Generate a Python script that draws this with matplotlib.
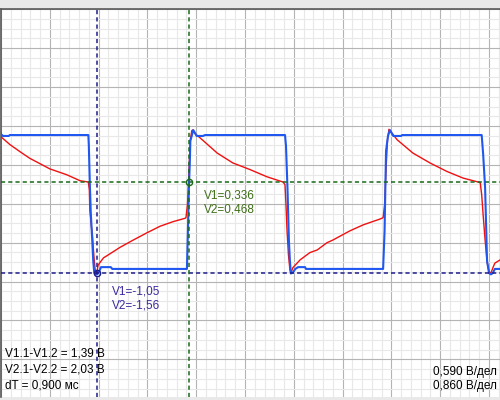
import matplotlib
matplotlib.use("Agg")
import matplotlib.pyplot as plt
from matplotlib.ticker import MultipleLocator

plt.rcParams['lines.scale_dashes'] = False
plt.rcParams['font.family'] = ['Liberation Sans', 'DejaVu Sans']

# time in screen divisions, voltage in volts
t_ch1 = [0, 0.01, 0.18, 0.39, 0.59, 1.00, 1.35, 1.62, 1.79, 1.81, 1.82, 1.83, 1.85, 1.87,
         1.89, 1.91, 1.93, 1.96, 1.99, 2.10, 2.23, 2.44, 2.71, 2.99, 3.26, 3.53, 3.77, 3.79,
         3.82, 3.84, 3.86, 3.88, 3.91, 3.93, 3.98, 4.08, 4.43, 4.75, 5.10, 5.45, 5.78, 5.82,
         5.84, 5.86, 5.89, 5.92, 5.94, 5.98, 6.13, 6.33, 6.48, 6.68, 6.80, 7.15, 7.42, 7.77,
         7.83, 7.86, 7.89, 7.92, 7.95, 7.99, 8.12, 8.44, 8.79, 9.14, 9.47, 9.78, 9.82, 9.85,
         9.88, 9.92, 9.96, 10.00, 10.04, 10.08, 10.12, 10.23]
v_ch1 = [1.07, 1.01, 0.90, 0.79, 0.69, 0.53, 0.44, 0.35, 0.33, 0.21, -0.09, -0.17, -0.33, -0.44,
         -0.66, -0.85, -1.00, -1.05, -0.93, -0.82, -0.76, -0.66, -0.55, -0.44, -0.34, -0.27, -0.22, -0.21,
         -0.02, 0.29, 0.67, 0.97, 1.11, 1.12, 1.06, 1.00, 0.77, 0.62, 0.52, 0.41, 0.33, 0.29,
         -0.02, -0.39, -0.77, -1.00, -1.05, -0.97, -0.85, -0.74, -0.70, -0.59, -0.55, -0.41, -0.32, -0.23,
         -0.21, -0.02, 0.52, 0.97, 1.13, 1.09, 0.97, 0.77, 0.62, 0.49, 0.39, 0.33, 0.32, 0.14,
         -0.17, -0.55, -0.88, -1.03, -1.05, -0.97, -0.90, -0.85]

t_ch2 = [0, 0.04, 0.16, 0.18, 1.79, 1.80, 1.82, 1.84, 1.87, 1.89, 1.91, 1.93, 1.97, 2.01,
         2.05, 2.25, 2.28, 3.81, 3.83, 3.85, 3.87, 3.88, 3.92, 3.94, 4.01, 4.14, 4.18, 5.82,
         5.84, 5.87, 5.90, 5.92, 5.94, 5.98, 6.03, 6.09, 6.23, 6.25, 7.83, 7.86, 7.89, 7.93,
         7.97, 8.04, 8.20, 8.22, 9.85, 9.88, 9.92, 9.96, 10.00, 10.04, 10.08, 10.12, 10.23]
v_ch2 = [1.54, 1.50, 1.50, 1.52, 1.52, 1.28, 0.44, -0.20, -0.82, -1.26, -1.52, -1.56, -1.56, -1.50,
         -1.40, -1.40, -1.44, -1.44, -0.60, 0.35, 0.95, 1.39, 1.55, 1.63, 1.50, 1.50, 1.52, 1.52,
         1.28, 0.36, -0.82, -1.26, -1.54, -1.52, -1.44, -1.40, -1.40, -1.44, -1.44, -0.60, 1.17, 1.50,
         1.63, 1.50, 1.50, 1.52, 1.52, 1.10, 0.36, -1.26, -1.53, -1.56, -1.53, -1.44, -1.44]

scale_ch1 = 0.590  # В/дел
scale_ch2 = 0.860
cursor_t = [1.973, 3.859]
cursor_v1 = [-1.05, 0.336]
cursor_v2 = [-1.56, 0.468]
cursor_colors = ['#1c1c8a', '#1a6a1a']
text_colors = ['#3a2a9e', '#3f6e18']

fig = plt.figure(figsize=(5, 4), dpi=100, facecolor='#e9e9e9')
ax = fig.add_axes([0.002, 0.0075, 0.998, 0.9692])
ax.set_xlim(0, 499 / 48.8)
ax.set_ylim(-4.967, 5)

ax.xaxis.set_major_locator(MultipleLocator(1))
ax.xaxis.set_minor_locator(MultipleLocator(0.2))
ax.yaxis.set_major_locator(MultipleLocator(1))
ax.yaxis.set_minor_locator(MultipleLocator(0.25))
ax.grid(which='minor', color='#e8e8e8', lw=0.8)
ax.grid(which='major', color='#b4b4b4', lw=0.8)
ax.set_axisbelow(True)
ax.tick_params(which='both', length=0, labelbottom=False, labelleft=False)
for s in ['right', 'bottom']:
    ax.spines[s].set_visible(False)
for s in ['top', 'left']:
    ax.spines[s].set_color('#5a5a5a')
    ax.spines[s].set_linewidth(1.2)

ax.plot(t_ch1, [v / scale_ch1 for v in v_ch1], color='#f01010', lw=1.0, zorder=3)
ax.plot(t_ch2, [v / scale_ch2 for v in v_ch2], color='#1f57f0', lw=1.5, zorder=4)

for i in range(2):
    y = cursor_v1[i] / scale_ch1
    ax.axvline(cursor_t[i], color=cursor_colors[i], lw=1.1, dashes=(3, 2.2), zorder=5)
    ax.axhline(y, color=cursor_colors[i], lw=1.1, dashes=(3, 2.2), zorder=5)
    ax.plot(cursor_t[i], y, 'o', mfc='none', mec=cursor_colors[i], ms=4.5, mew=1, zorder=6)

def px(x, y):
    return x / 500, 1 - y / 400

fs = 8.5
fig.text(*px(112, 291), 'V1=%s' % ('%.2f' % cursor_v1[0]).replace('.', ','), color=text_colors[0], fontsize=fs, va='center')
fig.text(*px(112, 305), 'V2=%s' % ('%.2f' % cursor_v2[0]).replace('.', ','), color=text_colors[0], fontsize=fs, va='center')
fig.text(*px(204, 195), 'V1=%s' % ('%.3f' % cursor_v1[1]).replace('.', ','), color=text_colors[1], fontsize=fs, va='center')
fig.text(*px(204, 209), 'V2=%s' % ('%.3f' % cursor_v2[1]).replace('.', ','), color=text_colors[1], fontsize=fs, va='center')

fig.text(*px(5, 354), 'V1.1-V1.2 = 1,39 В', fontsize=fs, va='center')
fig.text(*px(5, 370), 'V2.1-V2.2 = 2,03 В', fontsize=fs, va='center')
fig.text(*px(5, 385), 'dT = 0,900 мс', fontsize=fs, va='center')
fig.text(*px(497, 372), '0,590 В/дел', fontsize=fs, va='center', ha='right')
fig.text(*px(497, 386), '0,860 В/дел', fontsize=fs, va='center', ha='right')

fig.savefig('out.png', dpi=100, facecolor=fig.get_facecolor())
